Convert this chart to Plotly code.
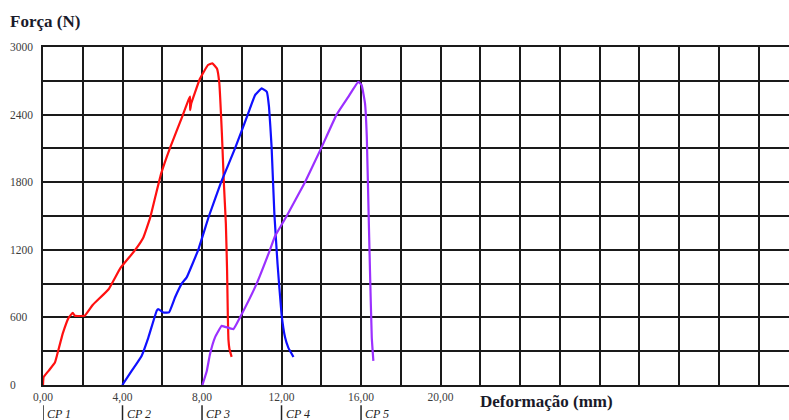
import plotly.graph_objects as go

# ---- data ----
cp1_x = [0, 0.03, 0.3, 0.6, 0.7, 1.0, 1.3, 1.5, 1.6, 2.1, 2.5, 3.3, 3.9, 4.6, 5.05, 5.4,
         5.65, 5.95, 6.4, 7.0, 7.32, 7.40, 7.40, 7.46, 7.9, 8.3, 8.52, 8.75, 8.87, 9.0,
         9.1, 9.2, 9.26, 9.3, 9.33, 9.38, 9.49]
cp1_y = [0, 70, 130, 200, 260, 460, 600, 640, 615, 615, 710, 850, 1040, 1190, 1310, 1490,
         1670, 1880, 2110, 2380, 2530, 2560, 2440, 2500, 2720, 2840, 2855, 2810, 2680, 2230,
         1790, 1430, 1020, 600, 400, 320, 250]

cp2_x = [3.99, 4.46, 4.96, 5.30, 5.72, 5.80, 6.05, 6.34, 6.64, 6.98, 7.23, 7.81, 8.35, 8.96,
         9.66, 10.3, 10.67, 11.0, 11.26, 11.37, 11.5, 11.64, 11.8, 12.0, 12.18, 12.34, 12.6]
cp2_y = [0, 125, 258, 421, 659, 674, 644, 644, 777, 900, 955, 1200, 1500, 1800,
         2100, 2400, 2573, 2632, 2602, 2469, 2113, 1519, 1074, 629, 421, 332, 249]

cp3_x = [8.02, 8.24, 8.40, 8.65, 8.99, 9.16, 9.58, 9.91, 10.75, 11.42, 11.67, 12.26, 13.18,
         13.99, 14.77, 15.36, 15.86, 16.03, 16.2, 16.29, 16.37, 16.45, 16.54, 16.62]
cp3_y = [0, 125, 273, 421, 525, 516, 496, 600, 900, 1200, 1320, 1500, 1800,
         2100, 2400, 2558, 2691, 2662, 2499, 2202, 1608, 1015, 421, 214]

series_names = ["CP 1", "CP 2", "CP 3"]
series_colors = ["#ff1010", "#1010ff", "#9b30ff"]

cp_labels = ["CP 1", "CP 2", "CP 3", "CP 4", "CP 5"]
cp_starts = [0, 4, 8, 12, 16]

x_grid = list(range(0, 38, 2))
x_labeled = {0: "0,00", 4: "4,00", 8: "8,00", 12: "12,00", 16: "16,00", 20: "20,00"}
y_grid = list(range(0, 3001, 300))
y_labels = [0, 600, 1200, 1800, 2400, 3000]

X_MAX = 37.53

fig = go.Figure()
for xs, ys, name, col in zip([cp1_x, cp2_x, cp3_x], [cp1_y, cp2_y, cp3_y],
                             series_names, series_colors):
    fig.add_trace(go.Scatter(x=xs, y=ys, mode="lines", name=name,
                             line=dict(color=col, width=2.2, shape="spline", smoothing=0.3)))

serif = "Liberation Serif, Times New Roman, serif"
tick_col = "#3c3c3c"

fig.update_layout(
    width=789, height=420,
    margin=dict(l=43, r=0, t=47, b=35),
    paper_bgcolor="white", plot_bgcolor="white",
    showlegend=False,
    xaxis=dict(range=[0, X_MAX], tickmode="array", tickvals=x_grid,
               ticktext=[x_labeled.get(v, "") for v in x_grid],
               showgrid=True, gridcolor="#1a1a1a", gridwidth=2,
               showline=True, linecolor="#1a1a1a", linewidth=2, mirror=True,
               zeroline=False, ticks="", ticklen=0,
               tickfont=dict(family=serif, size=11.5, color=tick_col)),
    yaxis=dict(range=[0, 3000], tickmode="array", tickvals=y_grid,
               ticktext=["" for v in y_grid],
               showgrid=True, gridcolor="#1a1a1a", gridwidth=2,
               showline=True, linecolor="#1a1a1a", linewidth=2,
               zeroline=False, ticks=""),
)

annotations = []
for v in y_labels:
    annotations.append(dict(x=-35 / 746, y=v, xref="paper", yref="y", text=str(v),
                            showarrow=False, xanchor="left", yanchor="middle",
                            font=dict(family=serif, size=11.5, color=tick_col)))
annotations.append(dict(x=-35 / 746, y=1.075, xref="paper", yref="paper",
                        text="<b>Força (N)</b>", showarrow=False,
                        xanchor="left", yanchor="middle",
                        font=dict(family=serif, size=17, color="#1a1a2a")))
annotations.append(dict(x=21.9, y=-0.05, xref="x", yref="paper",
                        text="<b>Deformação (mm)</b>", showarrow=False,
                        xanchor="left", yanchor="middle",
                        font=dict(family=serif, size=17, color="#1a1a2a")))
for lab, xs in zip(cp_labels, cp_starts):
    annotations.append(dict(x=xs, y=-0.085, xref="x", yref="paper",
                            text="<i>" + lab + "</i>", showarrow=False,
                            xanchor="left", yanchor="middle", xshift=2,
                            font=dict(family=serif, size=12, color="#222222")))
    fig.add_shape(type="line", xref="x", yref="paper", x0=xs, x1=xs,
                  y0=-0.06, y1=-0.11, line=dict(color="#222222", width=1.5))
fig.update_layout(annotations=annotations)

fig.write_html("out.html", config={"displayModeBar": False},
               post_script="document.body.style.margin='0';document.body.style.padding='0';")
